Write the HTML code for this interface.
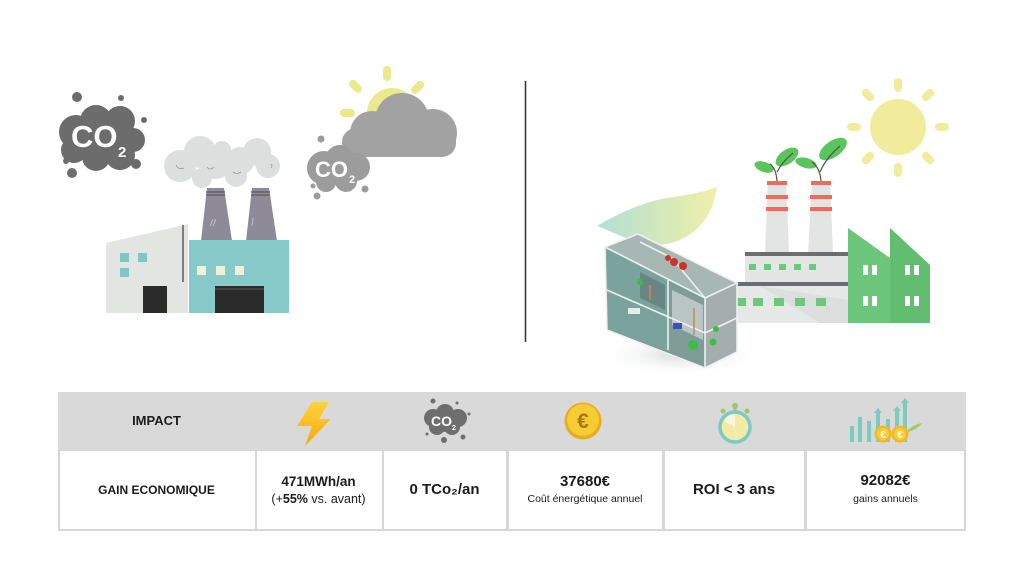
<!DOCTYPE html>
<html><head><meta charset="utf-8">
<style>
html,body{margin:0;padding:0;background:#fff;}
#c{position:relative;width:1024px;height:576px;overflow:hidden;background:#fff;font-family:"Liberation Sans",sans-serif;color:#1b1b1b;}
svg{position:absolute;left:0;top:0;}
.hdr{position:absolute;left:58px;top:392px;width:908px;height:58px;background:#d9d9d9;}
.row{position:absolute;left:58px;top:450px;width:908px;height:81px;background:#d6d6d6;}
.cell{position:absolute;top:1px;height:78px;background:#fff;display:flex;flex-direction:column;align-items:center;justify-content:center;text-align:center;}
.t{position:absolute;white-space:nowrap;}
</style></head><body>
<div id="c">
<svg width="1024" height="576" viewBox="0 0 1024 576">
  <defs>
    <linearGradient id="sw" x1="0" y1="0" x2="1" y2="0">
      <stop offset="0" stop-color="#9fd6cf" stop-opacity="0.8"/>
      <stop offset="0.5" stop-color="#c9e3b0" stop-opacity="0.85"/>
      <stop offset="1" stop-color="#eeeea0" stop-opacity="0.9"/>
    </linearGradient>
    <linearGradient id="bolt" x1="0" y1="0" x2="0" y2="1">
      <stop offset="0" stop-color="#ffd43a"/>
      <stop offset="1" stop-color="#f7a80c"/>
    </linearGradient>
    <radialGradient id="shd" cx="0.5" cy="0.5" r="0.5">
      <stop offset="0" stop-color="#cfd3d3" stop-opacity="0.8"/>
      <stop offset="1" stop-color="#ffffff" stop-opacity="0"/>
    </radialGradient>
  </defs>

  <!-- ===== LEFT ILLUSTRATION ===== -->
  <!-- left CO2 cloud -->
  <g fill="#6c6c6c">
    <circle cx="77" cy="97" r="5"/><circle cx="121" cy="98" r="3"/><circle cx="144" cy="120" r="3"/>
    <circle cx="66" cy="161" r="3"/><circle cx="136" cy="164" r="5"/><circle cx="72" cy="173" r="5"/>
    <circle cx="76" cy="132" r="17"/><circle cx="96" cy="121" r="16"/><circle cx="120" cy="121" r="15"/>
    <circle cx="133" cy="140" r="12"/><circle cx="120" cy="155" r="15"/><circle cx="96" cy="157" r="14"/>
    <circle cx="74" cy="150" r="13"/><circle cx="100" cy="138" r="25"/>
  </g>
  <text x="71" y="147" font-family="Liberation Sans, sans-serif" font-weight="bold" font-size="31" fill="#fff">CO</text>
  <text x="118" y="157" font-family="Liberation Sans, sans-serif" font-weight="bold" font-size="15" fill="#fff">2</text>

  <!-- smoke -->
  <g fill="#dcdfdd">
    <circle cx="180" cy="166" r="16"/><circle cx="200" cy="152" r="16"/><circle cx="216" cy="164" r="15"/>
    <circle cx="240" cy="161" r="14"/><circle cx="257" cy="152" r="14"/><circle cx="268" cy="166" r="12"/>
    <circle cx="236" cy="176" r="11"/><circle cx="202" cy="178" r="10"/><circle cx="222" cy="150" r="9"/>
  </g>
  <g fill="none" stroke="#9a9a9a" stroke-width="0.8">
    <path d="M176 165 q2 5 8 3"/><path d="M207 167 q3 4 7 0"/><path d="M233 172 q4 3 8 0"/><path d="M271 168 q2 -2 0 -4"/>
  </g>

  <!-- chimneys -->
  <polygon points="207,188 224,188 232,241 201,241" fill="#8e8a98"/>
  <polygon points="252,188 269,188 277,241 246,241" fill="#8e8a98"/>
  <g stroke="#4d4a55" stroke-width="1">
    <line x1="206" y1="192" x2="225" y2="192"/><line x1="206" y1="195" x2="225" y2="195"/>
    <line x1="251" y1="192" x2="270" y2="192"/><line x1="251" y1="195" x2="270" y2="195"/>
  </g>
  <g stroke="#cfcdd6" stroke-width="0.8"><line x1="210" y1="226" x2="213" y2="219"/><line x1="213" y1="226" x2="216" y2="219"/><line x1="252" y1="226" x2="253" y2="218"/></g>

  <!-- buildings -->
  <polygon points="106,243 188,224 188,313 106,313" fill="#e3e5e3"/>
  <line x1="183" y1="225" x2="183" y2="282" stroke="#5a5a5a" stroke-width="1.5"/>
  <rect x="120" y="253" width="9" height="9" fill="#7fc6c4"/>
  <rect x="138" y="253" width="9" height="9" fill="#7fc6c4"/>
  <rect x="120" y="268" width="9" height="9" fill="#7fc6c4"/>
  <rect x="143" y="286" width="24" height="27" fill="#2b2b2b"/>
  <rect x="189" y="240" width="100" height="73" fill="#86c9c8"/>
  <rect x="197" y="266" width="9" height="9" fill="#f2eedc"/>
  <rect x="216" y="266" width="9" height="9" fill="#f2eedc"/>
  <rect x="235" y="266" width="9" height="9" fill="#f2eedc"/>
  <rect x="215" y="286" width="49" height="27" fill="#2b2b2b"/>
  <line x1="215" y1="289" x2="264" y2="289" stroke="#6a6a6a" stroke-width="0.8"/>

  <!-- sun behind cloud (left) -->
  <g fill="#ece98c">
    <circle cx="392" cy="113" r="25"/>
    <rect x="383" y="66" width="8" height="15" rx="4"/>
    <rect x="351" y="79" width="8" height="15" rx="4" transform="rotate(-45 355 86)"/>
    <rect x="414" y="80" width="8" height="15" rx="4" transform="rotate(45 418 87)"/>
    <rect x="340" y="109" width="15" height="8" rx="4"/>
  </g>
  <!-- big gray cloud -->
  <g fill="#a2a2a2">
    <circle cx="372" cy="133" r="22"/><circle cx="402" cy="120" r="27"/><circle cx="433" cy="133" r="24"/>
    <rect x="342" y="128" width="114" height="29" rx="14"/>
  </g>
  <!-- small CO2 cloud -->
  <g fill="#9c9c9c">
    <circle cx="321" cy="139" r="3.5"/><circle cx="313" cy="186" r="2.5"/><circle cx="317" cy="196" r="3.5"/><circle cx="365" cy="189" r="3.5"/>
    <circle cx="324" cy="168" r="17"/><circle cx="340" cy="160" r="15"/><circle cx="356" cy="167" r="14"/>
    <circle cx="346" cy="181" r="11"/><circle cx="326" cy="182" r="10"/>
  </g>
  <text x="315" y="177" font-family="Liberation Sans, sans-serif" font-weight="bold" font-size="22" fill="#fff">CO</text>
  <text x="349" y="183" font-family="Liberation Sans, sans-serif" font-weight="bold" font-size="11" fill="#fff">2</text>

  <!-- divider -->
  <line x1="525.5" y1="81" x2="525.5" y2="342" stroke="#3a3a3a" stroke-width="1.6"/>

  <!-- ===== RIGHT ILLUSTRATION ===== -->
  <!-- sun -->
  <g fill="#f1ec9c">
    <circle cx="898" cy="127" r="28"/>
    <rect x="894" y="78" width="8" height="14" rx="4"/>
    <rect x="894" y="163" width="8" height="14" rx="4"/>
    <rect x="847" y="123" width="14" height="8" rx="4"/>
    <rect x="935" y="123" width="14" height="8" rx="4"/>
    <rect x="864" y="88" width="8" height="14" rx="4" transform="rotate(-45 868 95)"/>
    <rect x="924" y="88" width="8" height="14" rx="4" transform="rotate(45 928 95)"/>
    <rect x="864" y="151" width="8" height="14" rx="4" transform="rotate(45 868 158)"/>
    <rect x="924" y="151" width="8" height="14" rx="4" transform="rotate(-45 928 158)"/>
  </g>

  <!-- chimneys -->
  <polygon points="768,181 786,181 789,253 765,253" fill="#e3e4e4"/>
  <polygon points="812,181 830,181 833,253 808,253" fill="#e3e4e4"/>
  <g fill="#ef6a5e">
    <rect x="767" y="181" width="20" height="4"/><rect x="766" y="195" width="22" height="4"/><rect x="766" y="207" width="22" height="4"/>
    <rect x="811" y="181" width="20" height="4"/><rect x="810" y="195" width="22" height="4"/><rect x="810" y="207" width="22" height="4"/>
  </g>
  <!-- plants -->
  <g fill="#5cc45c">
    <ellipse cx="764" cy="167" rx="10" ry="5" transform="rotate(20 764 167)"/>
    <ellipse cx="787" cy="157" rx="13" ry="7" transform="rotate(-35 787 157)"/>
    <ellipse cx="806" cy="163" rx="11" ry="5" transform="rotate(15 806 163)"/>
    <ellipse cx="833" cy="149" rx="16" ry="8" transform="rotate(-35 833 149)"/>
  </g>
  <g fill="none" stroke="#4a5a4a" stroke-width="1.2">
    <path d="M777 181 Q776 168 770 164"/><path d="M777 172 Q782 162 793 153"/>
    <path d="M821 181 Q820 168 812 162"/><path d="M820 172 Q826 158 840 146"/>
  </g>

  <!-- gray factory -->
  <rect x="745" y="252" width="103" height="30" fill="#e4e5e5"/>
  <rect x="745" y="252" width="103" height="4" fill="#6a6e70"/>
  <g fill="#6cc87a">
    <rect x="749" y="264" width="7" height="6"/><rect x="764" y="264" width="7" height="6"/><rect x="779" y="264" width="7" height="6"/>
    <rect x="794" y="264" width="7" height="6"/><rect x="809" y="264" width="7" height="6"/>
  </g>
  <rect x="733" y="282" width="115" height="41" fill="#e6e7e7"/>
  <polygon points="760,286 848,300 848,323 820,323" fill="#d9dbdb" opacity="0.7"/>
  <rect x="733" y="282" width="115" height="4" fill="#6a6e70"/>
  <g fill="#6cc87a">
    <rect x="737" y="298" width="9" height="8"/><rect x="753" y="298" width="10" height="8"/><rect x="774" y="298" width="10" height="8"/>
    <rect x="795" y="298" width="10" height="8"/><rect x="816" y="298" width="10" height="8"/>
  </g>
  <!-- green factory -->
  <polygon points="848,228 890,258 890,228 930,265 930,323 848,323" fill="#6cc77a"/>
  <polygon points="890,228 930,265 930,323 890,323" fill="#63bd71"/>
  <g fill="#fff">
    <rect x="863" y="265" width="5" height="10"/><rect x="872" y="265" width="5" height="10"/>
    <rect x="863" y="296" width="5" height="10"/><rect x="872" y="296" width="5" height="10"/>
    <rect x="905" y="265" width="5" height="10"/><rect x="914" y="265" width="5" height="10"/>
    <rect x="905" y="296" width="5" height="10"/><rect x="914" y="296" width="5" height="10"/>
  </g>

  <!-- swoosh leaf -->
  <path d="M597 226 Q640 200 680 196 Q705 192 717 187 Q712 225 680 240 Q655 250 630 240 Q612 232 597 226 Z" fill="url(#sw)"/>

  <!-- machine shadow -->
  <ellipse cx="680" cy="355" rx="85" ry="22" fill="url(#shd)"/>
  <!-- machine -->
  <polygon points="605,247 638,234 737,283 705,298" fill="#a7b8b4"/>
  <polygon points="605,247 705,298 705,368 607,330" fill="#7f9c97"/>
  <polygon points="605,247 668,280 668,350 607,330" fill="#79a39c"/>
  <polygon points="705,298 737,283 737,352 705,368" fill="#a4afad"/>
  <polygon points="672,290 703,305 703,340 672,325" fill="#c9d0d2" opacity="0.8"/>
  <polygon points="640,272 665,285 665,310 640,298" fill="#6b8682"/>
  <g fill="none" stroke="#eef1f1" stroke-width="1.6">
    <polyline points="605,247 638,234 737,283 705,298 605,247"/>
    <line x1="705" y1="298" x2="705" y2="368"/><line x1="737" y1="283" x2="737" y2="352"/>
    <line x1="605" y1="247" x2="607" y2="330"/><line x1="668" y1="280" x2="668" y2="350"/>
    <line x1="607" y1="290" x2="705" y2="333"/><line x1="705" y1="333" x2="737" y2="318"/>
    <line x1="607" y1="330" x2="705" y2="368"/><line x1="705" y1="368" x2="737" y2="352"/>
    <line x1="640" y1="242" x2="672" y2="258"/><line x1="672" y1="258" x2="705" y2="298"/>
  </g>
  <g fill="#d2302a"><circle cx="674" cy="262" r="4"/><circle cx="683" cy="266" r="4"/><circle cx="668" cy="258" r="3"/></g>
  <g fill="#3dbb4a"><circle cx="693" cy="345" r="5"/><circle cx="713" cy="342" r="3.5"/><circle cx="716" cy="329" r="3"/><circle cx="640" cy="282" r="3"/></g>
  <rect x="673" y="323" width="9" height="6" fill="#3552c0"/>
  <g stroke="#c98a52" stroke-width="1.5"><line x1="694" y1="308" x2="694" y2="335"/><line x1="650" y1="285" x2="650" y2="300"/></g>
  <rect x="628" y="308" width="12" height="6" fill="#e8ecec"/>

  <!-- ===== TABLE ICONS ===== -->
</svg>

<div class="hdr"></div>
<div class="row">
  <div class="cell" style="left:2px;width:195px;"></div>
  <div class="cell" style="left:199px;width:125px;"></div>
  <div class="cell" style="left:326px;width:122px;"></div>
  <div class="cell" style="left:451px;width:153px;"></div>
  <div class="cell" style="left:607px;width:139px;"></div>
  <div class="cell" style="left:749px;width:157px;"></div>
</div>

<svg width="1024" height="576" viewBox="0 0 1024 576">
  <!-- lightning -->
  <polygon points="312,402 329,402 319,419 331,419 305,446 312,426 297,426" fill="url(#bolt)"/>
  <!-- CO2 icon -->
  <g fill="#6e6e6e">
    <circle cx="433" cy="401" r="2.5"/><circle cx="457" cy="403" r="1.5"/><circle cx="469" cy="414" r="1.5"/>
    <circle cx="427" cy="434" r="1.5"/><circle cx="444" cy="440" r="3"/><circle cx="463" cy="437" r="2.5"/>
    <circle cx="433" cy="418" r="9"/><circle cx="445" cy="413" r="9"/><circle cx="458" cy="418" r="9"/>
    <circle cx="452" cy="427" r="8"/><circle cx="437" cy="427" r="8"/><circle cx="446" cy="421" r="11"/>
  </g>
  <text x="431" y="426" font-family="Liberation Sans, sans-serif" font-weight="bold" font-size="14" fill="#fff">CO</text>
  <text x="452" y="430" font-family="Liberation Sans, sans-serif" font-weight="bold" font-size="7" fill="#fff">2</text>
  <!-- euro coin -->
  <circle cx="583" cy="421" r="18.5" fill="#e6ad1c"/>
  <circle cx="583" cy="420" r="16" fill="#f6cb33"/>
  <text x="583" y="428" text-anchor="middle" font-family="Liberation Sans, sans-serif" font-weight="bold" font-size="21" fill="#a67812">€</text>
  <!-- stopwatch -->
  <g fill="#a2c46e"><circle cx="735" cy="406" r="3"/><rect x="733.5" y="406" width="3" height="6"/><circle cx="723" cy="411" r="2.5"/><circle cx="747" cy="411" r="2.5"/></g>
  <circle cx="735" cy="427" r="15" fill="#f3eaa6" stroke="#7ccac8" stroke-width="3.5"/>
  <path d="M735 427 L735 414 A13 13 0 0 0 724 421 Z" fill="#fbf7dc"/>
  <!-- chart icon -->
  <g fill="#7ccbc0">
    <rect x="850" y="426" width="4" height="16"/><rect x="858" y="417" width="4" height="25"/>
    <rect x="867" y="421" width="4" height="21"/><rect x="876" y="411" width="4" height="31"/>
    <rect x="886" y="419" width="4" height="23"/><rect x="895" y="409" width="4" height="33"/>
    <rect x="903" y="401" width="4" height="41"/>
    <polygon points="905,398 909,403 901,403"/><polygon points="897,406 901,411 893,411"/><polygon points="878,408 882,413 874,413"/>
  </g>
  <path d="M906 432 Q914 424 922 423 Q916 431 906 432 Z" fill="#a2c86e"/>
  <circle cx="883" cy="434" r="8.5" fill="#f3b823"/><circle cx="883" cy="434" r="6" fill="#f9cd3a"/>
  <circle cx="900" cy="434" r="8.5" fill="#f3b823"/><circle cx="900" cy="434" r="6" fill="#f9cd3a"/>
  <text x="883" y="438" text-anchor="middle" font-family="Liberation Sans, sans-serif" font-weight="bold" font-size="10" fill="#fff">€</text>
  <text x="900" y="438" text-anchor="middle" font-family="Liberation Sans, sans-serif" font-weight="bold" font-size="10" fill="#fff">€</text>
</svg>

<!-- table text -->
<div class="t" style="left:58px;width:197px;top:413px;text-align:center;font-weight:bold;font-size:13px;">IMPACT</div>
<div class="t" style="left:58px;width:197px;top:483px;text-align:center;font-weight:bold;font-size:12px;">GAIN ECONOMIQUE</div>
<div class="t" style="left:255px;width:127px;top:474px;text-align:center;font-size:13.5px;font-weight:bold;">471MWh/an</div>
<div class="t" style="left:255px;width:127px;top:492px;text-align:center;font-size:12.5px;">(+<b>55%</b> vs. avant)</div>
<div class="t" style="left:382px;width:125px;top:481px;text-align:center;font-size:15px;font-weight:bold;">0 TCo₂/an</div>
<div class="t" style="left:507px;width:156px;top:473px;text-align:center;font-size:15px;font-weight:bold;">37680€</div>
<div class="t" style="left:507px;width:156px;top:493px;text-align:center;font-size:10.5px;">Coût énergétique annuel</div>
<div class="t" style="left:663px;width:142px;top:481px;text-align:center;font-size:15px;font-weight:bold;">ROI &lt; 3 ans</div>
<div class="t" style="left:805px;width:161px;top:472px;text-align:center;font-size:15px;font-weight:bold;">92082€</div>
<div class="t" style="left:805px;width:161px;top:493px;text-align:center;font-size:10.5px;">gains annuels</div>
</div>
</body></html>
